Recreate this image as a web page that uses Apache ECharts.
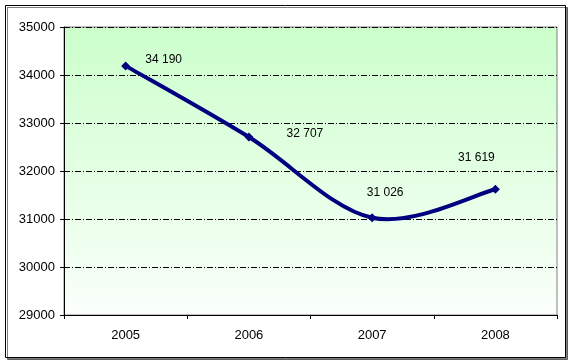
<!DOCTYPE html>
<html><head><meta charset="utf-8">
<script src="https://cdn.jsdelivr.net/npm/echarts@6/dist/echarts.min.js"></script>
<style>html,body{margin:0;padding:0;background:#fff}#c{width:573px;height:364px}</style>
</head><body><div id="c"></div>
<script>
const categories = ['2005', '2006', '2007', '2008'];
const values = [34190, 32707, 31026, 31619];
const valueLabels = ['34 190', '32 707', '31 026', '31 619'];
const labelOffsets = [[38, -6], [56, -3], [13, -25], [-19, -32]];

const chart = echarts.init(document.getElementById('c'), null, {renderer: 'canvas'});
const font = 'Arial, "Liberation Sans", sans-serif';

// Catmull-Rom style smoothing (like spreadsheet smoothed lines), drawn through the axis scales
function renderSegment(params, api) {
  const i = params.dataIndex;
  const n = values.length;
  if (i >= n - 1) return null;
  const P = j => api.coord([Math.max(0, Math.min(n - 1, j)), values[Math.max(0, Math.min(n - 1, j))]]);
  const p0 = P(i - 1), p1 = P(i), p2 = P(i + 1), p3 = P(i + 2);
  const c1 = [p1[0] + (p2[0] - p0[0]) / 6, p1[1] + (p2[1] - p0[1]) / 6];
  const c2 = [p2[0] - (p3[0] - p1[0]) / 6, p2[1] - (p3[1] - p1[1]) / 6];
  return {
    type: 'bezierCurve',
    shape: {x1: p1[0], y1: p1[1], x2: p2[0], y2: p2[1], cpx1: c1[0], cpy1: c1[1], cpx2: c2[0], cpy2: c2[1]},
    style: {stroke: '#000080', lineWidth: 4, fill: null, lineCap: 'round'}
  };
}

chart.setOption({
  animation: false,
  graphic: [{
    type: 'rect', z: -10, silent: true,
    shape: {x: 5.5, y: 5.5, width: 560, height: 352},
    style: {fill: '#fff', stroke: '#000', lineWidth: 1, shadowColor: 'rgba(0,0,0,0.5)', shadowOffsetX: 2, shadowOffsetY: 2, shadowBlur: 0}
  }],
  grid: {
    left: 64, right: 16, top: 27, bottom: 49,
    show: true, borderColor: '#808080', borderWidth: 1,
    backgroundColor: new echarts.graphic.LinearGradient(0, 0, 0, 1, [
      {offset: 0, color: '#ccffcc'}, {offset: 1, color: '#fbfffb'}
    ])
  },
  xAxis: {
    type: 'category', data: categories, boundaryGap: true,
    axisLine: {lineStyle: {color: '#000', width: 1}},
    axisTick: {show: true, alignWithLabel: false, length: 4, lineStyle: {color: '#000'}},
    axisLabel: {color: '#000', fontFamily: font, fontSize: 13, margin: 14},
    splitLine: {show: false}
  },
  yAxis: {
    type: 'value', min: 29000, max: 35000, interval: 1000,
    axisLine: {show: true, lineStyle: {color: '#000', width: 1}},
    axisTick: {show: true, length: 4, lineStyle: {color: '#000'}},
    axisLabel: {color: '#000', fontFamily: font, fontSize: 13, margin: 9, formatter: v => String(v)},
    splitLine: {show: true, lineStyle: {color: '#000', width: 1, type: [6, 2, 1, 2]}}
  },
  series: [{
    type: 'custom',
    renderItem: renderSegment,
    data: values.map((v, i) => [i, v]),
    encode: {x: 0, y: 1},
    z: 2
  }, {
    type: 'line',
    data: values.map((v, i) => ({
      value: v,
      label: {show: true, formatter: valueLabels[i], offset: labelOffsets[i], position: 'inside'}
    })),
    lineStyle: {width: 0, opacity: 0},
    itemStyle: {color: '#000080'},
    symbol: 'diamond', symbolSize: 9,
    label: {color: '#000', fontFamily: font, fontSize: 12},
    z: 3
  }]
});
</script></body></html>
